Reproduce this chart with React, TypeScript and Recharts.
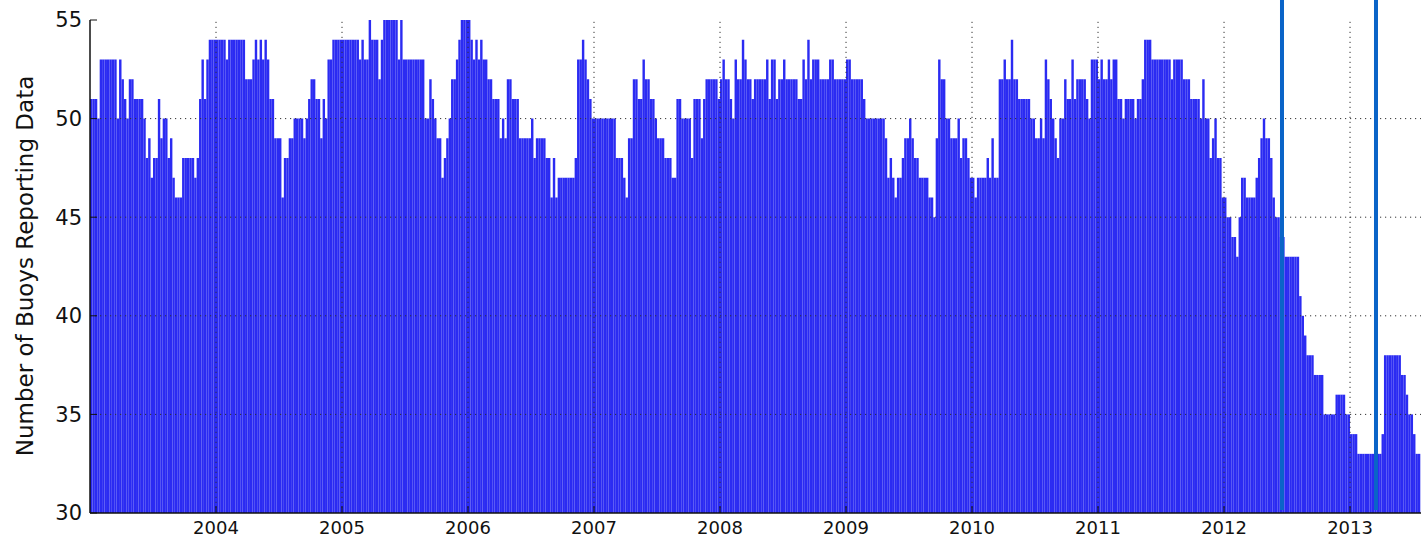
import React from 'react';
import { BarChart, Bar, XAxis, YAxis, ReferenceLine, Label } from 'recharts';

// Weekly number of buoys reporting data (52 weekly bars per year)
const years = [2003, 2004, 2005, 2006, 2007, 2008, 2009, 2010, 2011, 2012, 2013];
const y2003 = [51,51,51,50,53,53,53,53,53,53,53,50,53,52,51,50,52,52,51,51,51,51,50,48,49,47,48,48,51,49,50,50,48,49,47,46,46,46,48,48,48,48,48,47,48,51,53,51,53,54,54,54];
const y2004 = [54,54,54,54,53,54,54,54,54,54,54,54,52,52,52,53,54,53,54,53,54,53,51,51,49,49,49,46,48,48,49,49,50,50,50,50,49,50,51,52,52,51,51,49,51,50,53,53,54,54,54,54];
const y2005 = [54,54,54,54,54,54,54,53,54,53,53,55,54,54,54,52,54,55,55,55,55,55,55,53,55,53,53,53,53,53,53,53,53,53,50,50,52,51,50,49,49,47,48,49,50,52,52,53,54,55,55,55];
const y2006 = [55,54,53,54,53,54,53,53,52,52,51,51,51,49,50,49,52,52,51,51,51,49,49,49,49,49,50,48,49,49,49,49,48,48,46,48,46,47,47,47,47,47,47,47,48,53,53,54,53,52,51,50];
const y2007 = [50,50,50,50,50,50,50,50,50,48,48,48,47,46,49,49,52,52,51,51,53,52,52,51,51,50,49,49,49,48,48,48,47,47,51,51,50,50,50,50,48,51,51,51,49,51,52,52,52,52,52,51];
const y2008 = [52,53,52,52,51,50,53,52,52,54,53,52,52,51,52,52,52,52,52,53,51,53,53,51,52,52,53,52,52,52,52,52,51,51,53,52,54,52,53,53,53,52,52,52,52,53,53,52,52,52,52,52];
const y2009 = [53,53,52,52,52,52,52,51,50,50,50,50,50,50,50,50,49,47,48,47,46,47,47,48,49,49,50,49,48,48,47,47,47,47,46,46,45,49,53,52,52,50,50,49,49,49,50,48,49,49,48,47];
const y2010 = [47,46,47,47,47,47,48,47,49,47,47,52,52,53,52,52,54,52,52,51,51,51,51,51,50,50,49,49,50,49,53,52,51,50,49,48,50,50,52,51,51,53,51,52,52,52,52,51,50,53,53,53];
const y2011 = [52,53,52,52,53,52,53,53,51,51,50,51,51,51,51,50,51,51,52,54,54,54,53,53,53,53,53,53,53,53,52,53,53,53,53,52,52,52,51,51,51,51,50,52,50,50,48,49,50,48,48,46];
const y2012 = [46,45,45,44,44,43,45,47,47,46,46,46,46,47,48,49,50,49,49,48,46,45,45,44,44,43,43,43,43,43,43,41,40,39,38,38,38,37,37,37,37,35,35,35,35,35,36,36,36,36,35,35];
const y2013 = [34,34,34,33,33,33,33,33,33,33,33,33,33,34,38,38,38,38,38,38,38,37,37,36,35,35,34,33,33];
const weeklyCounts = [y2003, y2004, y2005, y2006, y2007, y2008, y2009, y2010, y2011, y2012, y2013];

const yearTicks = [2004, 2005, 2006, 2007, 2008, 2009, 2010, 2011, 2012, 2013];
const yTicks = [30, 35, 40, 45, 50, 55];
const xDomain = [2003, 2013.587];
const yDomain = [30, 55];
const markerDates = [2012.46, 2013.206];
const markerSpan = [30.15, 56.02];
const yTitle = 'Number of Buoys Reporting Data';

const data = years.flatMap((yr, k) =>
  weeklyCounts[k].map((v, w) => ({ t: yr + (w + 0.5) / 52, v }))
);

const FONT = 'DejaVu Sans, sans-serif';

export default function App() {
  return (
    <div
      style={{
        position: 'absolute',
        left: 0,
        top: 0,
        width: 1421,
        height: 543,
        overflow: 'hidden',
        background: '#fff',
      }}
    >
      <BarChart
        width={1424}
        height={543}
        data={data}
        margin={{ top: 20, right: 0, bottom: 0, left: 0 }}
        barCategoryGap={0}
        barGap={0}
      >
        <Bar dataKey="v" fill="#2b2bf2" barSize={2.42} isAnimationActive={false} />
        {yearTicks.map((t) => (
          <ReferenceLine key={'gx' + t} x={t} stroke="#333" strokeWidth={1} strokeDasharray="1.2 3.8" />
        ))}
        {yTicks.slice(1, -1).map((t) => (
          <ReferenceLine key={'gy' + t} y={t} stroke="#333" strokeWidth={1} strokeDasharray="1.2 3.8" />
        ))}
        <XAxis
          dataKey="t"
          type="number"
          domain={xDomain}
          ticks={yearTicks}
          allowDataOverflow
          interval={0}
          height={30}
          tickSize={-7}
          tickMargin={15}
          axisLine={{ stroke: '#111', strokeWidth: 1.5 }}
          tickLine={{ stroke: '#111' }}
          tick={{ fontSize: 18, fill: '#111', fontFamily: FONT }}
        />
        <XAxis
          xAxisId="top"
          orientation="top"
          dataKey="t"
          type="number"
          domain={xDomain}
          ticks={yearTicks}
          allowDataOverflow
          interval={0}
          height={0}
          tickSize={-7}
          tick={false}
          axisLine={{ stroke: '#111', strokeWidth: 1.8 }}
          tickLine={{ stroke: '#111' }}
        />
        <YAxis
          type="number"
          domain={yDomain}
          ticks={yTicks}
          allowDataOverflow
          interval={0}
          width={90}
          tickSize={-7}
          tickMargin={15}
          axisLine={{ stroke: '#111', strokeWidth: 1.5 }}
          tickLine={{ stroke: '#111' }}
          tick={{ fontSize: 21, fill: '#111', fontFamily: FONT }}
        >
          <Label
            content={() => (
              <text
                x={25}
                y={266}
                transform="rotate(-90 25 266)"
                textAnchor="middle"
                dominantBaseline="central"
                fontSize={23}
                fontFamily={FONT}
                fill="#111"
              >
                {yTitle}
              </text>
            )}
          />
        </YAxis>
        {markerDates.map((d) => (
          <ReferenceLine
            key={'m' + d}
            segment={[
              { x: d, y: markerSpan[0] },
              { x: d, y: markerSpan[1] },
            ]}
            stroke="#0a64c8"
            strokeWidth={4}
            ifOverflow="visible"
          />
        ))}
      </BarChart>
    </div>
  );
}
